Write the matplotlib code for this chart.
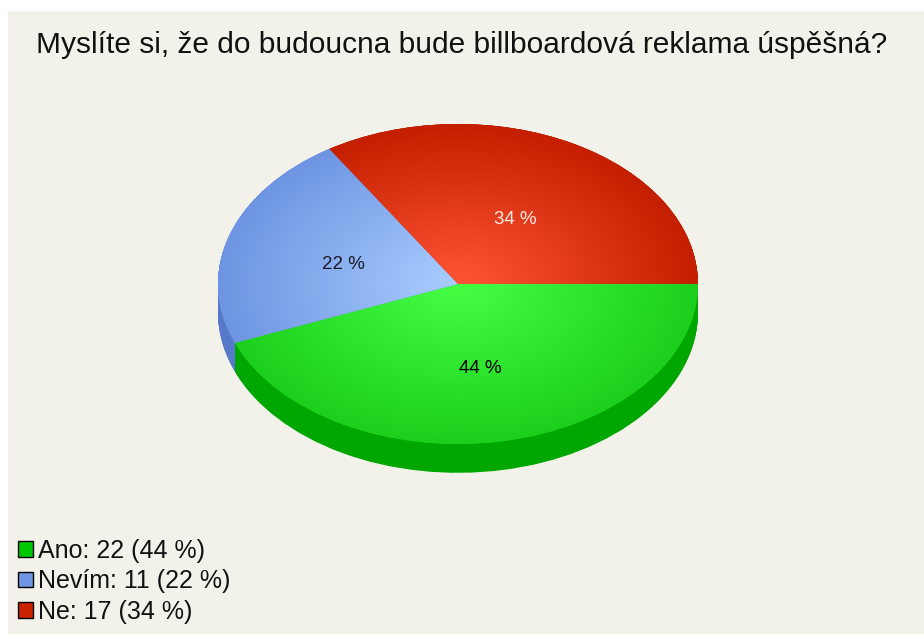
import numpy as np
import matplotlib
matplotlib.use('Agg')
import matplotlib.pyplot as plt
from matplotlib.patches import Rectangle, Patch
from matplotlib.colors import LinearSegmentedColormap

# data
labels = ['Ano', 'Nevím', 'Ne']
counts = [22, 11, 17]
title = 'Myslíte si, že do budoucna bude billboardová reklama úspěšná?'

# colours: edge of the top face, centre highlight, side wall, legend
edge_cols = ['#1ccf1c', '#6e95e2', '#c41f00']
centre_cols = ['#45ff45', '#aacdff', '#ff5536']
side_cols = ['#00a700', '#5679c9', '#a81a00']
legend_cols = ['#00c800', '#6f95e3', '#cc2200']
pct_cols = ['#000000', '#1a1a2a', '#ffe9e0']

plt.rcParams['font.family'] = ['Liberation Sans', 'DejaVu Sans']

W, H = 924, 639
fig = plt.figure(figsize=(W / 100, H / 100), dpi=100, facecolor='white')
fig.patches.append(Rectangle((8 / W, 5 / H), 1 - 8 / W, (634 - 5 - 6) / H,
                             transform=fig.transFigure, facecolor='#f3f2ea',
                             edgecolor='none', zorder=-5))

# pie frame: x -1..1 -> 218..698 px, y -1..1 -> 443..124 px
depth = 0.18
ax = fig.add_axes([218 / W, (H - 476) / H, 480 / W, 352 / H])
ax.set_facecolor('none')
ax.set_zorder(2)

# side wall, stacked copies shifted down
for off in np.linspace(-depth, 0, 40):
    ax.pie(counts, colors=side_cols, startangle=0, counterclock=False,
           center=(0, off), radius=1, wedgeprops=dict(linewidth=0))

# top face
wedges, _, autotexts = ax.pie(counts, colors=edge_cols, startangle=0,
                              counterclock=False, radius=1,
                              autopct=lambda p: f'{p:.0f} %', pctdistance=0.5,
                              wedgeprops=dict(linewidth=0),
                              textprops=dict(fontsize=13.5))

yy, xx = np.mgrid[-1.2:1:400j, -1:1:500j]
rr = np.sqrt(xx ** 2 + yy ** 2)
for w, c0, c1 in zip(wedges, centre_cols, edge_cols):
    cm = LinearSegmentedColormap.from_list('g', [c0, c1])
    im = ax.imshow(rr, cmap=cm, vmin=0, vmax=1, origin='lower',
                   extent=(-1, 1, -1.2, 1), aspect='auto', zorder=3,
                   interpolation='bilinear')
    im.set_clip_path(w)

for t, c in zip(autotexts, pct_cols):
    t.set_color(c)
    t.set_zorder(5)
    x, y = t.get_position()
    t.set_position((x, y - 0.035))

ax.set_aspect('auto')
ax.set_xlim(-1, 1)
ax.set_ylim(-1 - depth - 0.02, 1)
ax.axis('off')

fig.text(462 / W, 1 - 45 / H, title, ha='center', va='center', fontsize=21.5,
         color='#111111')

handles = [Patch(facecolor=c, edgecolor='black', linewidth=1) for c in legend_cols]
total = sum(counts)
leg_labels = [f'{l}: {n} ({round(100 * n / total)} %)' for l, n in zip(labels, counts)]
fig.legend(handles, leg_labels, loc='lower left',
           bbox_to_anchor=(5 / W, (H - 636) / H), frameon=False,
           fontsize=18, handlelength=0.6, handleheight=0.6,
           handletextpad=0.2, labelspacing=0.25, borderpad=0,
           labelcolor='#111111')

fig.savefig('out.png', dpi=100, facecolor='white')
